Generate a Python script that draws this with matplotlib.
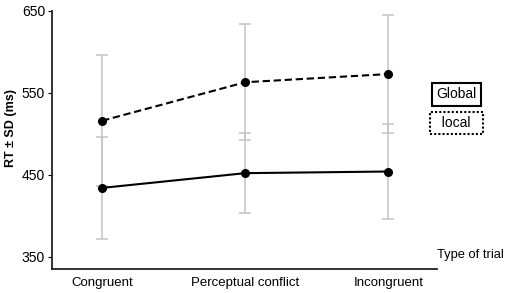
import numpy as np
import matplotlib.pyplot as plt

plt.rcParams['font.family'] = ['Liberation Sans', 'DejaVu Sans']

categories = ["Congruent", "Perceptual conflict", "Incongruent"]
global_rt = [434, 452, 454]
global_sd = [62, 49, 58]
local_rt = [516, 563, 573]
local_sd = [80, 71, 72]
y_ticks = [350, 450, 550, 650]

fig = plt.figure(figsize=(5.1, 2.93), dpi=100)
ax = fig.add_axes([0.102, 0.082, 0.755, 0.8805])

x = np.arange(len(categories))
err_color = '#c4c4c4'

ax.errorbar(x, local_rt, yerr=local_sd, fmt='none', ecolor=err_color,
            elinewidth=1.1, capsize=4, capthick=1.1, zorder=1)
ax.errorbar(x, global_rt, yerr=global_sd, fmt='none', ecolor=err_color,
            elinewidth=1.1, capsize=4, capthick=1.1, zorder=1)

ax.plot(x, local_rt, color='black', linestyle=(0, (3.5, 1.8)), linewidth=1.5,
        marker='o', markersize=5.5, zorder=3)
ax.plot(x, global_rt, color='black', linestyle='-', linewidth=1.5,
        marker='o', markersize=5.5, zorder=3)

ax.set_xlim(-0.35, 2.34)
ax.set_ylim(335, 650)
ax.set_yticks(y_ticks)
ax.set_yticklabels([str(v) for v in y_ticks], fontsize=10)
ax.set_xticks(x)
ax.set_xticklabels(categories, fontsize=9.5)
ax.tick_params(axis='x', length=0, pad=6)
ax.tick_params(axis='y', length=3, width=0.8, pad=2)

for side in ['top', 'right']:
    ax.spines[side].set_visible(False)
for side in ['left', 'bottom']:
    ax.spines[side].set_linewidth(1.3)
    ax.spines[side].set_color('#222222')

ax.set_ylabel('RT ± SD (ms)', fontsize=9, fontweight='bold')
ax.yaxis.set_label_coords(-0.091, 0.547)

fig.text(0.857, 0.128, 'Type of trial', fontsize=9.3, ha='left', va='center')

fig.text(0.895, 0.678, 'Global', fontsize=10, ha='center', va='center',
         bbox=dict(boxstyle='square,pad=0.3', facecolor='white',
                   edgecolor='black', linewidth=1.5))
fig.text(0.895, 0.580, '  local  ', fontsize=10, ha='center', va='center',
         bbox=dict(boxstyle='square,pad=0.3', facecolor='white',
                   edgecolor='black', linewidth=1.5, linestyle=(0, (1, 1))))

fig.savefig('out.png', dpi=100)
